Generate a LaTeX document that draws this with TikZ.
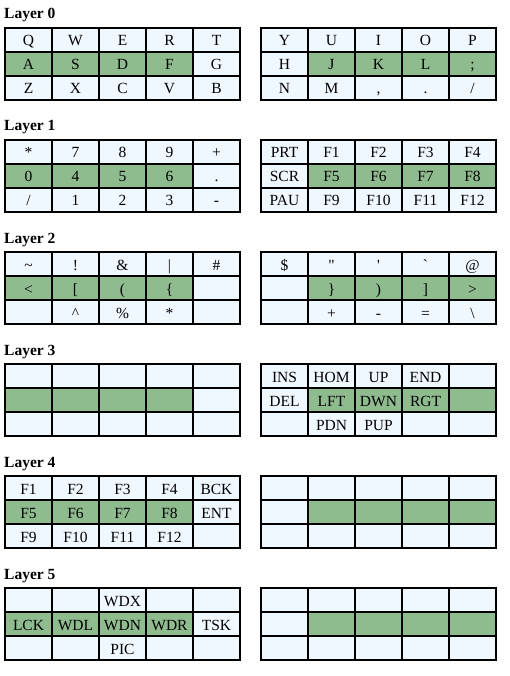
\documentclass[tikz,border=0pt]{standalone}
\usepackage{fontspec}
\newfontfamily\cf{Liberation Serif}
\definecolor{cellblue}{HTML}{F0F8FF}
\definecolor{cellgreen}{HTML}{8FBC8F}
\tikzset{
  cell/.style={draw=black, line width=2.5pt, minimum width=47pt, minimum height=24pt,
    inner sep=0pt, text height=13pt, text depth=1pt,
    font=\cf\fontsize{15.5}{18}\selectfont},
  title/.style={anchor=base west, inner sep=0pt, font=\cf\bfseries\fontsize{15.5}{18}\selectfont}
}
% #1 name, #2 left x, #3 top y, #4 side (0 left, 1 right), #5 15 labels
\newcommand\kbgrid[5]{%
  \foreach \t [count=\i from 0] in {#5} {%
    \pgfmathtruncatemacro\r{\i/5}%
    \pgfmathtruncatemacro\c{\i-5*\r}%
    \def\fc{cellblue}%
    \ifnum\r=1
      \ifnum#4=0 \ifnum\c<4 \def\fc{cellgreen}\fi
      \else \ifnum\c>0 \def\fc{cellgreen}\fi\fi
    \fi
    \node[cell, fill=\fc] (#1-\i) at ({#2+23.5+47*\c},{#3+12+24*\r}) {\t};
  }%
}
\begin{document}
\begin{tikzpicture}[x=1pt,y=-1pt]
\useasboundingbox (0,0) rectangle (510,676);
% Layer 0
\node[title] (t0) at (4,19) {Layer 0};
\kbgrid{a0}{5}{28}{0}{Q,W,E,R,T,A,S,D,F,G,Z,X,C,V,B}
\kbgrid{b0}{261}{28}{1}{Y,U,I,O,P,H,J,K,L,{;},N,M,{,},{.},{/}}
% Layer 1
\node[title] (t1) at (4,131) {Layer 1};
\kbgrid{a1}{5}{140}{0}{{*},7,8,9,{+},0,4,5,6,{.},{/},1,2,3,{-}}
\kbgrid{b1}{261}{140}{1}{PRT,F1,F2,F3,F4,SCR,F5,F6,F7,F8,PAU,F9,F10,F11,F12}
% Layer 2
\node[title] (t2) at (4,243) {Layer 2};
\kbgrid{a2}{5}{252}{0}{{\textasciitilde},{!},{\&},{|},{\#},{<},{[},{(},{\{},{},{},{\textasciicircum},{\%},{*},{}}
\kbgrid{b2}{261}{252}{1}{{\$},{"},{'},{`},{@},{},{\}},{)},{]},{>},{},{+},{-},{=},{\textbackslash}}
% Layer 3
\node[title] (t3) at (4,355) {Layer 3};
\kbgrid{a3}{5}{364}{0}{{},{},{},{},{},{},{},{},{},{},{},{},{},{},{}}
\kbgrid{b3}{261}{364}{1}{INS,HOM,UP,END,{},DEL,LFT,DWN,RGT,{},{},PDN,PUP,{},{}}
% Layer 4
\node[title] (t4) at (4,467) {Layer 4};
\kbgrid{a4}{5}{476}{0}{F1,F2,F3,F4,BCK,F5,F6,F7,F8,ENT,F9,F10,F11,F12,{}}
\kbgrid{b4}{261}{476}{1}{{},{},{},{},{},{},{},{},{},{},{},{},{},{},{}}
% Layer 5
\node[title] (t5) at (4,579) {Layer 5};
\kbgrid{a5}{5}{588}{0}{{},{},WDX,{},{},LCK,WDL,WDN,WDR,TSK,{},{},PIC,{},{}}
\kbgrid{b5}{261}{588}{1}{{},{},{},{},{},{},{},{},{},{},{},{},{},{},{}}
\end{tikzpicture}
\end{document}
